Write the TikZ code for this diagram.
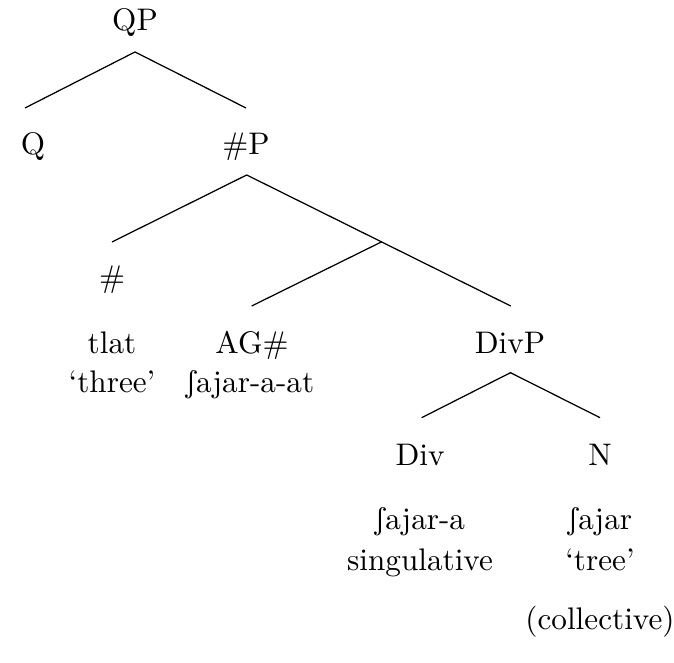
\documentclass[tikz,border=0pt]{standalone}
\usepackage{tipa}
\begin{document}
\begin{tikzpicture}[x=0.3205pt,y=-0.3205pt,
  lbl/.style={anchor=base,inner sep=0pt,font=\normalsize},
  branch/.style={line width=0.4pt}]
\useasboundingbox (0,0) rectangle (674,663);
% labels
\node[lbl] (QP) at (135,31) {QP};
\node[lbl] (Q) at (33,155) {Q};
\node[lbl] (NP) at (246,155) {\#P};
\node[lbl] (num) at (112,288) {\#};
\node[lbl] (tlat) at (112,354) {tlat};
\node[lbl] (three) at (112,393) {`three'};
\node[lbl] (AG) at (252,354) {AG\#};
\node[lbl] (sajaraat) at (250,393) {\textesh ajar-a-at};
\node[lbl] (DivP) at (510,354) {DivP};
\node[lbl] (Div) at (420,466) {Div};
\node[lbl] (sajara) at (420,530) {\textesh ajar-a};
\node[lbl] (sing) at (420,571) {singulative};
\node[lbl] (N) at (600,466) {N};
\node[lbl] (sajar) at (600,530) {\textesh ajar};
\node[lbl] (tree) at (600,571) {`tree'};
\node[lbl] (coll) at (600,630) {(collective)};
% branch points
\coordinate (qpT) at (135,52);
\coordinate (qL) at (25,108);
\coordinate (qR) at (246,108);
\coordinate (npT) at (246.7,175);
\coordinate (npL) at (112,242);
\coordinate (npR) at (510.7,306);
\coordinate (jn) at (381.7,241.8);
\coordinate (agT) at (251.7,306);
\coordinate (dT) at (510.5,372.7);
\coordinate (dL) at (421.7,417.7);
\coordinate (dR) at (600,417.7);
\draw[branch] (qL) -- (qpT) -- (qR);
\draw[branch] (npL) -- (npT) -- (npR);
\draw[branch] (jn) -- (agT);
\draw[branch] (dL) -- (dT) -- (dR);
\end{tikzpicture}
\end{document}
